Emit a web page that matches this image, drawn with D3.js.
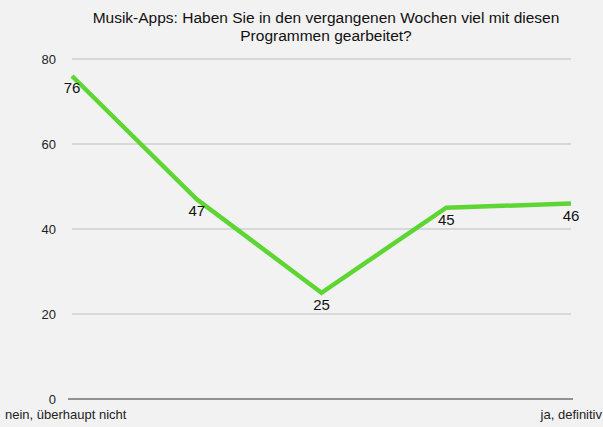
<!DOCTYPE html>
<html>
<head>
<meta charset="utf-8">
<script src="https://cdn.jsdelivr.net/npm/d3@7"></script>
<style>
  body { margin: 0; background: #f2f2f2; }
  svg { display: block; font-family: "Liberation Sans", Arial, sans-serif; }
</style>
</head>
<body>
<div id="chart"></div>
<script>
// Musik-Apps answers
const categories = ["nein, überhaupt nicht", "2", "3", "4", "ja, definitiv"];
const values = [76, 47, 25, 45, 46];
const yTicks = [0, 20, 40, 60, 80];
const titleLines = ["Musik-Apps: Haben Sie in den vergangenen Wochen viel mit diesen", "Programmen gearbeitet?"];

const width = 603, height = 427;
const margin = { top: 59, right: 32, bottom: 28, left: 72 };

const svg = d3.select("#chart").append("svg")
    .attr("width", width)
    .attr("height", height);

const x = d3.scalePoint()
    .domain(categories)
    .range([margin.left, width - margin.right]);

const y = d3.scaleLinear()
    .domain([0, 80])
    .range([height - margin.bottom, margin.top]);

// gridlines
svg.append("g")
    .selectAll("line")
    .data(yTicks.filter(d => d > 0))
    .enter().append("line")
    .attr("x1", margin.left)
    .attr("x2", width - margin.right)
    .attr("y1", d => y(d))
    .attr("y2", d => y(d))
    .attr("stroke", "#bdbdbd")
    .attr("stroke-width", 1);

// baseline
svg.append("line")
    .attr("x1", margin.left - 4)
    .attr("x2", width - margin.right + 2)
    .attr("y1", y(0))
    .attr("y2", y(0))
    .attr("stroke", "#333")
    .attr("stroke-width", 1);

// y axis labels
const yAxis = svg.append("g")
    .attr("transform", `translate(${margin.left - 16}, 0)`)
    .call(d3.axisLeft(y).tickValues(yTicks).tickSize(0).tickPadding(0));
yAxis.select(".domain").remove();
yAxis.selectAll("text")
    .attr("font-size", 13)
    .attr("font-family", "Liberation Sans, Arial, sans-serif")
    .attr("fill", "#222");

// x labels (first and last only)
svg.append("text")
    .attr("x", 5)
    .attr("y", 419)
    .attr("font-size", 13)
    .attr("fill", "#222")
    .text(categories[0]);
svg.append("text")
    .attr("x", 602)
    .attr("y", 419)
    .attr("text-anchor", "end")
    .attr("font-size", 13)
    .attr("fill", "#222")
    .text(categories[categories.length - 1]);

// line
const line = d3.line()
    .x((d, i) => x(categories[i]))
    .y(d => y(d));

svg.append("path")
    .datum(values)
    .attr("d", line)
    .attr("fill", "none")
    .attr("stroke", "#5dd633")
    .attr("stroke-width", 4.5)
    .attr("stroke-linejoin", "miter");

// value labels
svg.append("g")
    .selectAll("text")
    .data(values)
    .enter().append("text")
    .attr("x", (d, i) => x(categories[i]))
    .attr("y", d => y(d) + 17)
    .attr("text-anchor", "middle")
    .attr("font-size", 15)
    .attr("fill", "#111")
    .text(d => d);

// title
svg.append("g")
    .selectAll("text")
    .data(titleLines)
    .enter().append("text")
    .attr("x", 326)
    .attr("y", (d, i) => 23 + i * 18)
    .attr("text-anchor", "middle")
    .attr("font-size", 15.5)
    .attr("fill", "#111")
    .text(d => d);
</script>
</body>
</html>
